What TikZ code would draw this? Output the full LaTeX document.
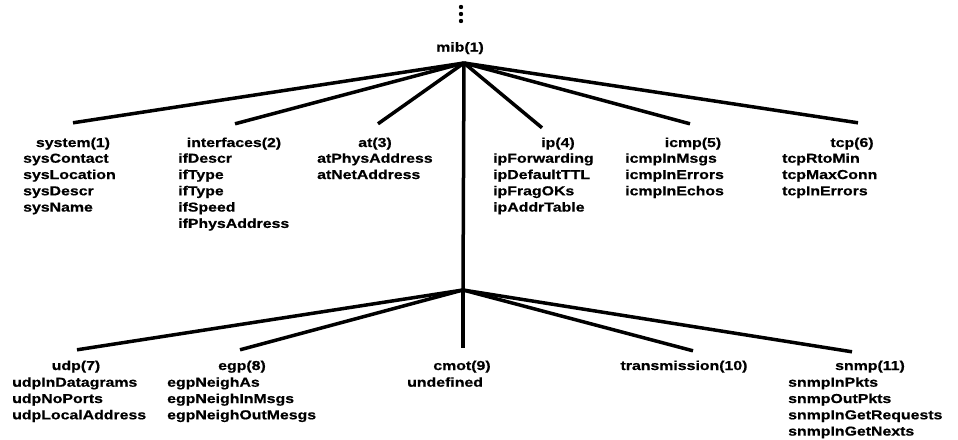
\documentclass[tikz,border=0pt]{standalone}
\usepackage{fontspec}
\newfontfamily\lblfont{Liberation Sans}[FakeStretch=1.22,BoldFeatures={FakeStretch=1.22,FakeBold=0.6}]
\begin{document}
\begin{tikzpicture}[x=1pt,y=-1pt,
  lbl/.style={font=\lblfont\bfseries\fontsize{13}{16.3}\selectfont, inner sep=0pt},
  head/.style={lbl, anchor=base, text height=9pt, text depth=2.5pt},
  attrs/.style={lbl, anchor=north west, align=left},
  branch/.style={line width=3.5pt, line join=round}]
\useasboundingbox (0,0) rectangle (958,439);

% ellipsis above the root
\foreach \yy in {7,14,21} \fill (461,\yy) circle (2.2);

% root and branching points
\node[head] (mib) at (460,51.5) {mib(1)};
\coordinate (top) at (464,63);
\coordinate (mid) at (463,290);

% first level groups
\node[head] (sys)  at (73,147)  {system(1)};
\node[head] (ifc)  at (234,147) {interfaces(2)};
\node[head] (at)   at (375,147) {at(3)};
\node[head] (ip)   at (558,147) {ip(4)};
\node[head] (icmp) at (693,147) {icmp(5)};
\node[head] (tcp)  at (852,147) {tcp(6)};

\node[attrs] (sysl)  at (23,151.1)  {\strut sysContact\\sysLocation\\sysDescr\\sysName};
\node[attrs] (ifcl)  at (178,151.1) {\strut ifDescr\\ifType\\ifType\\ifSpeed\\ifPhysAddress};
\node[attrs] (atl)   at (317,151.1) {\strut atPhysAddress\\atNetAddress};
\node[attrs] (ipl)   at (493,151.1) {\strut ipForwarding\\ipDefaultTTL\\ipFragOKs\\ipAddrTable};
\node[attrs] (icmpl) at (625,151.1) {\strut icmpInMsgs\\icmpInErrors\\icmpInEchos};
\node[attrs] (tcpl)  at (782,151.1) {\strut tcpRtoMin\\tcpMaxConn\\tcpInErrors};

% second level groups
\node[head] (udp)   at (76,370)  {udp(7)};
\node[head] (egp)   at (242,370) {egp(8)};
\node[head] (cmot)  at (462,370) {cmot(9)};
\node[head] (trans) at (684,370) {transmission(10)};
\node[head] (snmp)  at (870,370) {snmp(11)};

\node[attrs] (udpl)  at (12,375.1)  {\strut udpInDatagrams\\udpNoPorts\\udpLocalAddress};
\node[attrs] (egpl)  at (167,375.1) {\strut egpNeighAs\\egpNeighInMsgs\\egpNeighOutMesgs};
\node[attrs] (cmotl) at (407,375.1) {\strut undefined};
\node[attrs] (snmpl) at (788,375.1) {\strut snmpInPkts\\snmpOutPkts\\snmpInGetRequests\\snmpInGetNexts};

% branches from the root
\draw[branch] (top) -- ([yshift=15pt]sys.north);
\draw[branch] (top) -- ([xshift=1pt,yshift=14pt]ifc.north);
\draw[branch] (top) -- ([xshift=3pt,yshift=14pt]at.north);
\draw[branch] (top) -- ([xshift=-16pt,yshift=10pt]ip.north);
\draw[branch] (top) -- ([xshift=-3pt,yshift=14pt]icmp.north);
\draw[branch] (top) -- ([xshift=6pt,yshift=15pt]tcp.north);
\draw[branch] (top) -- (mid);

% branches from the lower split
\draw[branch] (mid) -- ([xshift=1pt,yshift=11pt]udp.north);
\draw[branch] (mid) -- ([xshift=-2pt,yshift=11pt]egp.north);
\draw[branch] (mid) -- ([xshift=1pt,yshift=13pt]cmot.north);
\draw[branch] (mid) -- ([xshift=9pt,yshift=10pt]trans.north);
\draw[branch] (mid) -- ([xshift=-18pt,yshift=9pt]snmp.north);
\end{tikzpicture}
\end{document}
